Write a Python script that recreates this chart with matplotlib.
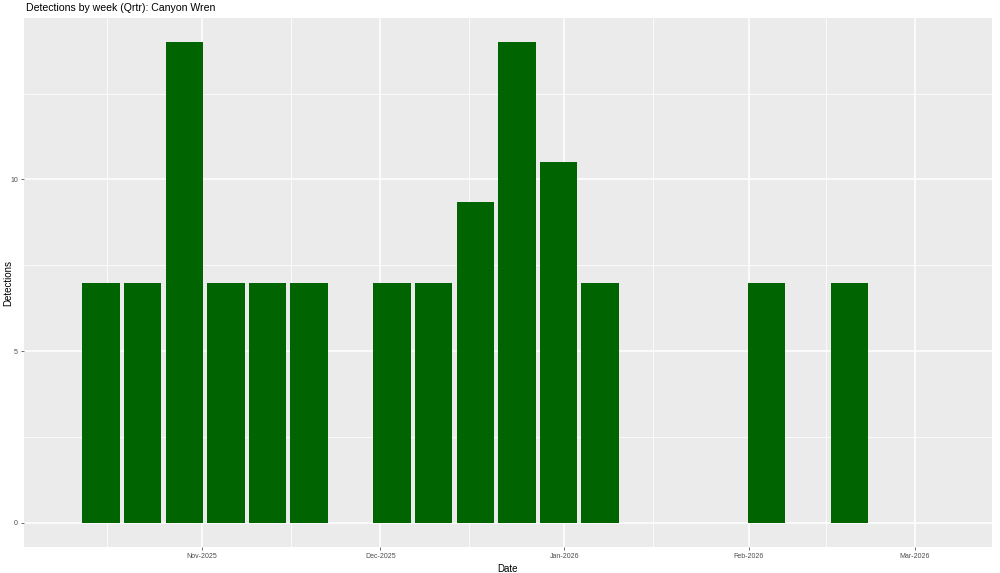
import matplotlib
matplotlib.use("Agg")
import matplotlib.pyplot as plt
import matplotlib.dates as mdates
import numpy as np
import datetime as dt

plt.rcParams['font.family'] = ['Liberation Sans', 'DejaVu Sans']

weeks = ["2025-10-15", "2025-10-22", "2025-10-29", "2025-11-05", "2025-11-12",
         "2025-11-19", "2025-12-03", "2025-12-10", "2025-12-17", "2025-12-24",
         "2025-12-31", "2026-01-07", "2026-02-04", "2026-02-18"]
detections = [7, 7, 14, 7, 7, 7, 7, 7, 9.33, 14, 10.5, 7, 7, 7]
tick_dates = ["2025-11-01", "2025-12-01", "2026-01-01", "2026-02-01", "2026-03-01"]
tick_labels = ["Nov-2025", "Dec-2025", "Jan-2026", "Feb-2026", "Mar-2026"]
minor_dates = ["2025-10-16", "2025-11-16", "2025-12-16", "2026-01-16", "2026-02-14"]

to_num = lambda s: mdates.date2num(dt.datetime.strptime(s, "%Y-%m-%d"))
x = np.array([to_num(d) for d in weeks])

fig = plt.figure(figsize=(10, 5.73), dpi=100)
ax = fig.add_axes([0.024, 1 - 547/573, 0.968, (547 - 18)/573])
ax.set_facecolor("#EBEBEB")
for s in ax.spines.values():
    s.set_visible(False)

ax.set_xlim(to_num("2025-10-02"), to_num("2026-03-14"))
ax.set_ylim(-0.7, 14.7)

ax.set_xticks([to_num(d) for d in tick_dates])
ax.set_xticklabels(tick_labels)
ax.set_xticks([to_num(d) for d in minor_dates], minor=True)
ax.set_yticks([0, 5, 10])
ax.set_yticks([2.5, 7.5, 12.5], minor=True)

ax.grid(which="major", color="white", linewidth=1.1)
ax.grid(which="minor", color="white", linewidth=0.55)
ax.set_axisbelow(True)

ax.tick_params(which="major", length=2.5, width=0.5, color="#333333",
               labelsize=5.0, labelcolor="#4D4D4D", pad=2)
ax.tick_params(which="minor", length=0)

ax.bar(x, detections, width=6.3, color="#006400", linewidth=0)

ax.set_xlabel("Date", fontsize=7, labelpad=3)
ax.set_ylabel("Detections", fontsize=7)
ax.yaxis.set_label_coords(-11/968, 0.5)
fig.text(26/1000, 1 - 8/573, "Detections by week (Qrtr): Canyon Wren",
         fontsize=7.6, ha="left", va="center")

fig.savefig("out.png", dpi=100)
